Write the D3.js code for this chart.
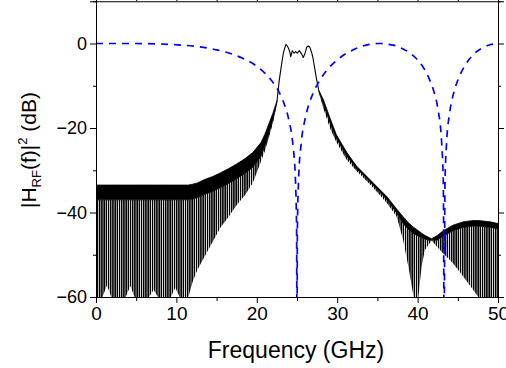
<!DOCTYPE html>
<html><head><meta charset="utf-8">
<script src="https://cdn.jsdelivr.net/npm/d3@7"></script>
<style>
html,body{margin:0;padding:0;background:#fff;}
svg{display:block;font-family:"Liberation Sans",Arial,sans-serif;}
</style></head>
<body>
<svg id="chart" width="506" height="368"></svg>
<script>
// ---------- data ----------
const xTicks = [0, 10, 20, 30, 40, 50];
const xMinorTicks = [5, 15, 25, 35, 45];
const yTicks = [0, -20, -40, -60];
const yMinorTicks = [10, -10, -30, -50];

// black RF response, left stop band (dense ripple): envelopes in dB
const leftFreq  = [0, 0.8, 1.37, 1.9, 3.7, 4.27, 4.8, 6.6, 7.17, 7.7, 9.3, 9.87, 10.4, 11.5, 12.0, 12.6, 13.5, 14.5, 15.5, 16.5, 17.5, 18.5, 19.5, 20.5, 21.0, 21.5, 22.0, 22.5];
const leftUpper = [-33.5, -33.5, -33.5, -33.5, -33.5, -33.5, -33.5, -33.5, -33.5, -33.5, -33.5, -33.5, -33.5, -33.5, -33.3, -33.0, -32.2, -31.5, -30.6, -29.6, -28.5, -27.3, -25.8, -23.5, -21.5, -19.0, -16.5, -13.6];
const leftSolid = [-37.0, -37.0, -37.0, -37.0, -37.0, -37.0, -37.0, -37.0, -37.0, -37.0, -37.0, -37.0, -37.0, -37.0, -36.8, -36.5, -35.7, -35.0, -34.1, -33.1, -32.0, -30.8, -29.3, -26.8, -24.3, -21.4, -18.2, -14.0];
const leftLower = [-60, -60, -57.2, -60, -60, -57.4, -60, -60, -58.3, -60, -60, -57.8, -60, -60, -56.5, -53.6, -50.5, -47.0, -43.5, -41.0, -38.2, -36.0, -33.0, -28.0, -25.5, -22.3, -18.8, -14.2];

// pass band (single noisy trace)
const passFreq = [22.5, 22.8, 23.13, 23.3, 23.47, 23.63, 23.79, 23.94, 24.13, 24.22, 24.42, 24.63, 24.84, 25.04, 25.29, 25.58, 25.78, 26.0, 26.2, 26.4, 26.6, 26.83, 26.95, 27.03, 27.24, 27.45, 27.7];
const passDb   = [-13.8, -8.6, -4.3, -2.3, -1.1, -0.2, -0.6, -1.1, -2.2, -3.1, -1.7, -2.3, -1.9, -2.3, -1.7, -2.5, -3.3, -2.3, -0.9, -0.6, -0.9, -2.2, -3.1, -3.9, -6.3, -8.6, -11.0];

// right stop band (ripple) envelopes in dB
const rightFreq  = [27.7, 28.3, 29.1, 29.9, 31.2, 32.4, 33.7, 34.9, 36.2, 37.4, 38.2, 38.85, 39.5, 40.1, 40.5, 40.9, 41.5, 41.75, 42.4, 43.2, 44.4, 45.7, 46.9, 47.55, 49.0, 50];
const rightUpper = [-11.0, -13.4, -17.6, -21.6, -25.8, -29.0, -31.5, -33.8, -36.3, -39.2, -41.0, -42.4, -43.5, -44.3, -44.9, -45.4, -46.0, -46.2, -45.5, -44.3, -43.0, -42.2, -41.9, -41.9, -42.2, -42.6];
const rightSolid = [-11.3, -14.4, -18.8, -22.5, -26.7, -29.6, -32.0, -34.4, -37.0, -40.1, -42.6, -44.0, -45.0, -45.6, -46.0, -46.3, -46.6, -46.4, -46.6, -45.6, -44.3, -43.5, -43.2, -43.2, -43.5, -43.9];
const rightLower = [-11.5, -15.5, -20.0, -23.4, -27.6, -30.2, -32.6, -35.0, -37.8, -41.0, -46.5, -52.8, -60, -60, -52.8, -48.9, -47.3, -46.6, -48.1, -49.7, -52.0, -55.2, -58.3, -60, -60, -60];

// blue dashed curve (dispersion-induced power fading)
const blueFreq = [0, 5, 10, 12.5, 15, 17.5, 20, 21, 22, 23, 23.5, 24, 24.5, 24.8, 24.95, 25, 25.05, 25.2, 25.5, 26, 26.5, 27, 28, 29, 30, 31, 32, 33, 34, 35, 35.36, 36, 37, 38, 39, 40, 41, 41.5, 42, 42.5, 43, 43.2, 43.3, 43.4, 43.6, 44, 44.5, 45, 46, 47, 48, 49, 50];
const blueDb   = [0, 0, -0.3, -0.7, -1.5, -2.9, -5.4, -7.0, -9.2, -12.4, -14.8, -18.2, -24.1, -32.0, -44.0, -70, -44.0, -32.0, -24.0, -17.9, -14.3, -11.8, -8.2, -5.7, -3.9, -2.5, -1.5, -0.7, -0.2, 0, 0, -0.1, -0.4, -1.1, -2.2, -3.9, -6.6, -8.6, -11.2, -15.2, -23.7, -33.2, -70, -33.4, -23.7, -16.3, -11.6, -8.7, -4.9, -2.5, -1.1, -0.3, 0];

// ---------- chart ----------
(function draw() {
const svg = d3.select("#chart");
const x = d3.scaleLinear().domain([0, 50]).range([96, 498]);
const y = d3.scaleLinear().domain([-60, 10]).range([297, 1.25]);

const defs = svg.append("defs");
defs.append("clipPath").attr("id", "plotClip")
  .append("rect").attr("x", x(0)).attr("y", y(10)).attr("width", x(50) - x(0)).attr("height", y(-60) - y(10));
const pat = defs.append("pattern").attr("id", "stripes")
  .attr("patternUnits", "userSpaceOnUse").attr("width", 2.2).attr("height", 20);
pat.append("rect").attr("x", 0).attr("y", 0).attr("width", 1.5).attr("height", 20).attr("fill", "#000");

const g = svg.append("g").attr("clip-path", "url(#plotClip)");

function band(freq, upper, solid, lower) {
  const pts = freq.map((f, i) => ({f, u: upper[i], s: solid[i], l: lower[i]}));
  g.append("path").datum(pts)
    .attr("fill", "url(#stripes)")
    .attr("d", d3.area().x(d => x(d.f)).y0(d => y(d.l)).y1(d => y(d.s)));
  g.append("path").datum(pts)
    .attr("fill", "#000").attr("stroke", "#000").attr("stroke-width", 0.8)
    .attr("d", d3.area().x(d => x(d.f)).y0(d => y(d.s)).y1(d => y(d.u)));
}
band(leftFreq, leftUpper, leftSolid, leftLower);
band(rightFreq, rightUpper, rightSolid, rightLower);

g.append("path").datum(passFreq.map((f, i) => [f, passDb[i]]))
  .attr("fill", "none").attr("stroke", "#000").attr("stroke-width", 1.1)
  .attr("stroke-linejoin", "round")
  .attr("d", d3.line().x(d => x(d[0])).y(d => y(d[1])));

g.append("path").datum(blueFreq.map((f, i) => [f, blueDb[i]]))
  .attr("fill", "none").attr("stroke", "#0000ff").attr("stroke-width", 1.7)
  .attr("stroke-dasharray", "7,6")
  .attr("d", d3.line().curve(d3.curveMonotoneX).x(d => x(d[0])).y(d => y(d[1])));

// ---------- axes ----------
const fontTick = 18;
function styleAxis(sel) {
  sel.selectAll("path").attr("stroke", "#000").attr("stroke-width", 1);
  sel.selectAll("line").attr("stroke", "#000").attr("stroke-width", 1);
  sel.selectAll("text").attr("font-size", fontTick).attr("fill", "#000")
    .attr("font-family", "Liberation Sans, Arial, sans-serif");
}
const axB = svg.append("g").attr("transform", `translate(0,${y(-60)})`)
  .call(d3.axisBottom(x).tickValues(xTicks).tickSize(6).tickPadding(4).tickFormat(d3.format("d")));
styleAxis(axB);
axB.selectAll("text").attr("font-size", 19);
svg.append("g").attr("transform", `translate(0,${y(-60)})`)
  .call(d3.axisBottom(x).tickValues(xMinorTicks).tickSize(4).tickFormat(""))
  .call(s => { s.select("path").remove(); styleAxis(s); });

const axT = svg.append("g").attr("transform", `translate(0,${y(10)})`)
  .call(d3.axisTop(x).tickValues(xTicks).tickSize(6).tickFormat(""));
styleAxis(axT);
svg.append("g").attr("transform", `translate(0,${y(10)})`)
  .call(d3.axisTop(x).tickValues(xMinorTicks).tickSize(4).tickFormat(""))
  .call(s => { s.select("path").remove(); styleAxis(s); });

const axL = svg.append("g").attr("transform", `translate(${x(0)},0)`)
  .call(d3.axisLeft(y).tickValues(yTicks).tickSize(6).tickPadding(3).tickFormat(d3.format("d")));
styleAxis(axL);
svg.append("g").attr("transform", `translate(${x(0)},0)`)
  .call(d3.axisLeft(y).tickValues(yMinorTicks).tickSize(3).tickFormat(""))
  .call(s => { s.select("path").remove(); styleAxis(s); });

const axR = svg.append("g").attr("transform", `translate(${x(50)},0)`)
  .call(d3.axisRight(y).tickValues(yTicks).tickSize(6).tickFormat(""));
styleAxis(axR);
svg.append("g").attr("transform", `translate(${x(50)},0)`)
  .call(d3.axisRight(y).tickValues(yMinorTicks).tickSize(3).tickFormat(""))
  .call(s => { s.select("path").remove(); styleAxis(s); });

// ---------- axis titles ----------
svg.append("text").attr("x", 296).attr("y", 358).attr("text-anchor", "middle")
  .attr("font-size", 23).attr("fill", "#000").text("Frequency (GHz)");

const yl = svg.append("text").attr("transform", "translate(36,150) rotate(-90)")
  .attr("text-anchor", "middle").attr("font-size", 21).attr("fill", "#000");
yl.append("tspan").text("|H");
yl.append("tspan").attr("font-size", 13).attr("dy", 5).text("RF");
yl.append("tspan").attr("dy", -5).text("(f)|");
yl.append("tspan").attr("font-size", 13).attr("dy", -9).text("2");
yl.append("tspan").attr("dy", 9).text(" (dB)");
})();
</script>
</body></html>
